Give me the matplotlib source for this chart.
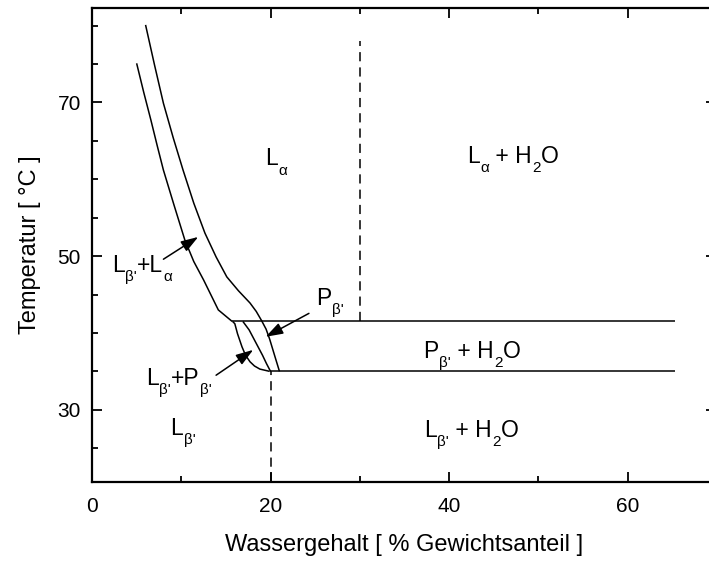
import matplotlib
matplotlib.use("Agg")
import matplotlib.pyplot as plt
from matplotlib.ticker import MultipleLocator

plt.rcParams["font.family"] = ["Liberation Sans", "DejaVu Sans"]

# Phase boundaries: water content [wt %] vs temperature [°C]
liquidus_x = [5.0, 5.8, 6.6, 7.3, 8.0, 9.2, 10.4, 11.4, 12.5, 14.15, 15.7]
liquidus_t = [75.1, 71.3, 67.7, 64.4, 61.2, 56.6, 52.1, 49.3, 46.9, 43.0, 41.5]

pretrans_x = [6.0, 7.0, 8.0, 9.1, 10.2, 11.4, 12.65, 13.9, 15.1, 16.4,
              17.7, 18.4, 19.0, 19.5, 19.9, 20.5, 21.0]
pretrans_t = [80.1, 74.9, 69.9, 65.4, 61.2, 56.9, 53.0, 49.9, 47.3, 45.5,
              43.9, 42.8, 41.6, 40.5, 39.2, 36.9, 35.0]

ripple_left_x = [15.75, 16.0, 16.3, 16.8, 17.2, 17.7, 18.2, 18.8, 19.9]
ripple_left_t = [41.5, 41.2, 39.9, 38.2, 37.1, 36.25, 35.7, 35.3, 35.0]

ripple_mid_x = [16.9, 17.6, 18.1, 18.6, 19.1, 19.55, 20.0]
ripple_mid_t = [41.5, 40.4, 39.3, 38.2, 37.1, 36.0, 35.0]

main_transition_t = 41.5
pre_transition_t = 35.0
main_line_x = [15.7, 65.3]
pre_line_x = [19.9, 65.3]

hydration_limit_hot_x = 30.0
hydration_limit_hot_t = [41.5, 78.0]
hydration_limit_cold_x = 20.0
hydration_limit_cold_t = [20.6, 35.0]

# Phase labels: pieces (text, is_subscript), anchored at (x, T) on the baseline
phase_labels = [
    ([("L", 0), ("α", 1)], 19.4, 61.8),
    ([("L", 0), ("α", 1), (" + H", 0), ("2", 1), ("O", 0)], 42.0, 62.1),
    ([("P", 0), ("β'", 1), (" + H", 0), ("2", 1), ("O", 0)], 37.1, 36.8),
    ([("L", 0), ("β'", 1), (" + H", 0), ("2", 1), ("O", 0)], 37.2, 26.5),
    ([("L", 0), ("β'", 1), ("+L", 0), ("α", 1)], 2.2, 48.0),
    ([("P", 0), ("β'", 1)], 25.1, 43.6),
    ([("L", 0), ("β'", 1), ("+P", 0), ("β'", 1)], 6.05, 33.2),
    ([("L", 0), ("β'", 1)], 8.8, 26.7),
]

# Pointer arrows: (tail x, tail T, tip x, tip T)
pointer_arrows = [
    (8.0, 49.6, 11.9, 52.5),
    (24.3, 42.55, 19.45, 39.5),
    (13.9, 34.5, 18.06, 37.8),
]

MAIN_SIZE = 16.5
SUB_SIZE = 11
SUB_DROP = -6.5  # points below the main baseline


def draw_phase_label(ax, pieces, x, t):
    first_text, _ = pieces[0]
    prev = ax.text(x, t, first_text, fontsize=MAIN_SIZE, ha="left", va="baseline")
    for text, is_sub in pieces[1:]:
        prev = ax.annotate(
            text, xy=(1, t), xycoords=(prev, "data"),
            xytext=(0.4 if is_sub else 0.0, SUB_DROP if is_sub else 0.0),
            textcoords="offset points",
            fontsize=SUB_SIZE if is_sub else MAIN_SIZE,
            ha="left", va="baseline",
        )


fig = plt.figure(figsize=(7.09, 5.61), dpi=100)
ax = fig.add_axes([92 / 709, 79 / 561, 624 / 709, 474 / 561])

line_kw = dict(color="black", lw=1.1, solid_capstyle="butt", solid_joinstyle="round")
ax.plot(liquidus_x, liquidus_t, **line_kw)
ax.plot(pretrans_x, pretrans_t, **line_kw)
ax.plot(ripple_left_x, ripple_left_t, **line_kw)
ax.plot(ripple_mid_x, ripple_mid_t, **line_kw)
ax.plot(main_line_x, [main_transition_t] * 2, **line_kw)
ax.plot(pre_line_x, [pre_transition_t] * 2, **line_kw)

dash_kw = dict(color="black", lw=1.1, linestyle=(0, (6, 4)))
ax.plot([hydration_limit_hot_x] * 2, hydration_limit_hot_t, **dash_kw)
ax.plot([hydration_limit_cold_x] * 2, hydration_limit_cold_t, **dash_kw)

for pieces, x, t in phase_labels:
    draw_phase_label(ax, pieces, x, t)

for x0, t0, x1, t1 in pointer_arrows:
    ax.annotate("", xy=(x1, t1), xytext=(x0, t0),
                arrowprops=dict(arrowstyle="-|>,head_length=0.75,head_width=0.25",
                                color="black", lw=1.1, shrinkA=0, shrinkB=0,
                                mutation_scale=14))

ax.set_xlim(0, 69.9)
ax.set_ylim(20.6, 82.3)
ax.xaxis.set_major_locator(MultipleLocator(20))
ax.xaxis.set_minor_locator(MultipleLocator(10))
ax.yaxis.set_minor_locator(MultipleLocator(5))
ax.set_yticks([30, 50, 70])

ax.tick_params(which="both", direction="in", top=True, right=True,
               width=1.3, labelsize=15, colors="black")
ax.tick_params(axis="x", which="major", length=7, pad=11)
ax.tick_params(axis="y", which="major", length=7, pad=8)
ax.tick_params(which="minor", length=4)

for side in ["left", "bottom", "top", "right"]:
    ax.spines[side].set_linewidth(1.6)

ax.set_xlabel("Wassergehalt [ % Gewichtsanteil ]", fontsize=17, labelpad=13)
ax.set_ylabel("Temperatur [ °C ]", fontsize=17, labelpad=12)

fig.savefig("out.png", dpi=100)
